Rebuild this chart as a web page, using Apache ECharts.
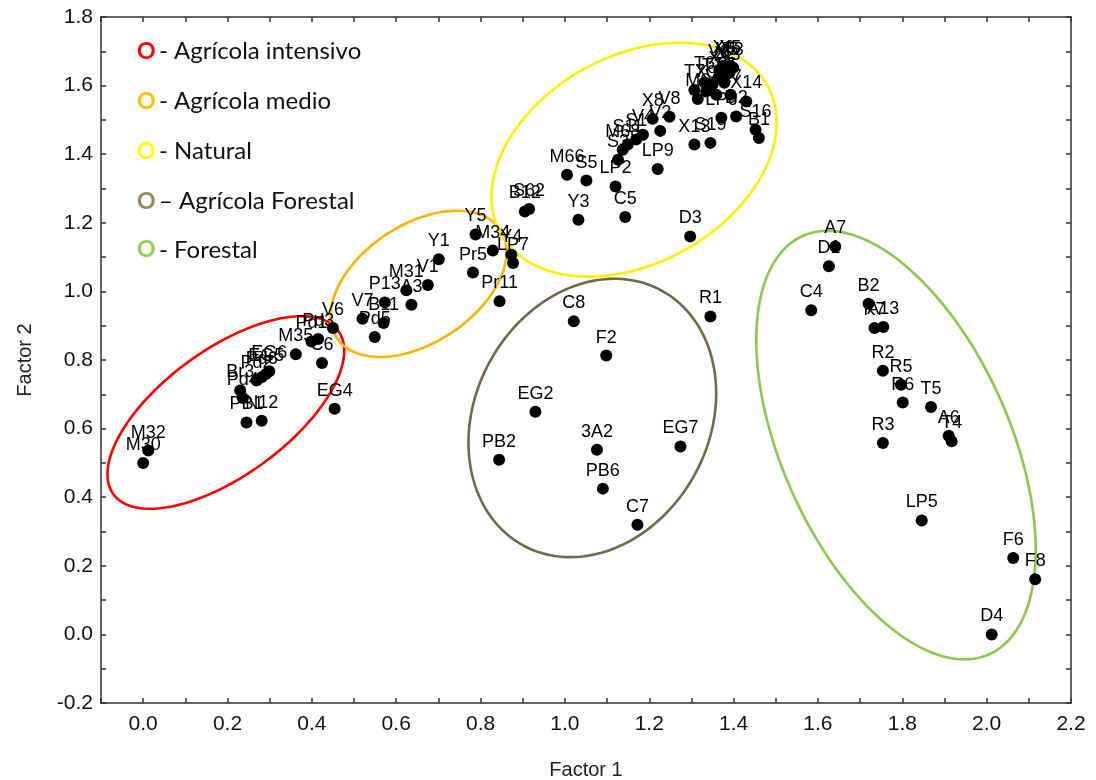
<!DOCTYPE html>
<html><head><meta charset="utf-8">
<script src="https://cdn.jsdelivr.net/npm/echarts@6/dist/echarts.min.js"></script>
<style>html,body{margin:0;padding:0;background:#fff}#c{width:1096px;height:780px}</style>
</head><body><div id="c"></div>
<script>
// ---- tick labels ----
const xTickLabels = ['0.0','0.2','0.4','0.6','0.8','1.0','1.2','1.4','1.6','1.8','2.0','2.2'];
const yTickLabels = ['-0.2','0.0','0.2','0.4','0.6','0.8','1.0','1.2','1.4','1.6','1.8'];

// ---- Agrícola intensivo ----
const redNames = ['M30','M32','PB1','N12','Br3','Pd4','Pd2','Pd6','EG5','EG6','M35','Pd1','Pd3','C6','EG4'];
const redX = [0.00,0.012,0.245,0.281,0.230,0.236,0.269,0.281,0.292,0.299,0.362,0.399,0.415,0.424,0.454];
const redY = [0.50,0.536,0.618,0.623,0.711,0.689,0.740,0.750,0.760,0.767,0.817,0.854,0.861,0.791,0.658];

// ---- Agrícola medio ----
const orangeNames = ['V6','V7','Pd5','B11','P13','A3','M31','V1','Y1','Pr5','Pr11','Y5','M34','Y4','LP7'];
const orangeX = [0.450,0.520,0.549,0.570,0.573,0.636,0.624,0.675,0.701,0.782,0.845,0.788,0.829,0.873,0.877];
const orangeY = [0.893,0.920,0.867,0.908,0.968,0.961,1.003,1.019,1.094,1.055,0.971,1.166,1.119,1.107,1.083];

// ---- Natural ----
const yellowNames = ['B12','S62','Y3','M66','S5','LP2','C5','D3','S3','M68','S11','S1','V4','V2','X8','V8','LP9','X13','S19',
  'LP6','D2','X14','S16','B1','M6','T7','X9','V9','X7','T2','T6','T1','X1','V3','X6','V5','X5','T3','X2','X3'];
const yellowX = [0.905,0.915,1.032,1.005,1.051,1.120,1.143,1.297,1.126,1.137,1.149,1.169,1.185,1.226,1.208,1.248,1.220,1.307,1.345,
  1.371,1.406,1.430,1.452,1.460,1.315,1.307,1.335,1.359,1.393,1.378,1.331,1.350,1.366,1.366,1.376,1.385,1.392,1.399,1.380,1.390];
const yellowY = [1.233,1.240,1.209,1.340,1.323,1.306,1.217,1.160,1.384,1.413,1.428,1.443,1.457,1.468,1.503,1.509,1.357,1.428,1.433,
  1.506,1.510,1.554,1.471,1.447,1.561,1.587,1.583,1.573,1.573,1.608,1.609,1.604,1.626,1.646,1.658,1.652,1.658,1.652,1.640,1.637];

// ---- Agrícola Forestal ----
const oliveNames = ['C8','F2','EG2','PB2','3A2','EG7','PB6','C7','R1'];
const oliveX = [1.021,1.098,0.930,0.844,1.076,1.274,1.090,1.172,1.345];
const oliveY = [0.913,0.813,0.649,0.509,0.538,0.548,0.425,0.320,0.927];

// ---- Forestal ----
const greenNames = ['A7','D1','C4','B2','K7','A13','R2','R5','R6','T5','R3','A6','T4','LP5','F6','F8','D4'];
const greenX = [1.641,1.626,1.584,1.720,1.734,1.755,1.754,1.797,1.801,1.868,1.754,1.910,1.917,1.846,2.063,2.115,2.012];
const greenY = [1.131,1.073,0.945,0.964,0.893,0.896,0.769,0.728,0.676,0.663,0.558,0.579,0.563,0.332,0.223,0.161,0.000];

// ---- legend entries ----
const legendSymbols = ['O','O','O','O','O'];
const legendTexts = ['- Agrícola intensivo','- Agrícola medio','- Natural','– Agrícola Forestal','- Forestal'];
const legendColors = ['#FF0000','#FFC000','#FFFF00','#948A54','#92D050'];

// ---- group ellipses (annotation outlines: centre in data units, semi-axes in px, tilt in deg) ----
const ellipseDefs = [
  {stroke:'#FF0000', cx:0.196, cy:0.647, rx:139, ry:63, angle:36},
  {stroke:'#FFB400', cx:0.653, cy:1.022, rx:98, ry:59, angle:33.5},
  {stroke:'#FFF000', cx:1.164, cy:1.384, rx:152.5, ry:103.6, angle:29},
  {stroke:'#6F6A48', cx:1.065, cy:0.631, rx:145, ry:117, angle:61.7},
  {stroke:'#8CC84B', cx:1.785, cy:0.552, rx:229, ry:114, angle:114}
];

function build(names, xs, ys){ return names.map((n,i)=>({name:n, value:[xs[i], ys[i]]})); }
const allData = [].concat(
  build(redNames, redX, redY), build(orangeNames, orangeX, orangeY),
  build(yellowNames, yellowX, yellowY), build(oliveNames, oliveX, oliveY),
  build(greenNames, greenX, greenY));

const FONT = '"Liberation Sans", Arial, sans-serif';
function lab(arr){ return v => { const s = (Math.abs(v) < 1e-9 ? 0 : v).toFixed(1); return arr.indexOf(s) >= 0 ? s : ''; }; }
const axisLineStyle = {color:'#333', width:1.5};

const chart = echarts.init(document.getElementById('c'), null, {renderer:'canvas'});
const option = {
  animation:false,
  backgroundColor:'#fff',
  grid:{left:101, right:25, top:17, bottom:77, containLabel:false, outerBoundsMode:'none'},
  xAxis:[
    {type:'value', position:'bottom', min:-0.1, max:2.2, interval:0.1,
     name:'Factor 1', nameLocation:'middle', nameGap:57,
     nameTextStyle:{fontSize:20, color:'#222', fontFamily:FONT},
     axisLine:{show:true, onZero:false, lineStyle:axisLineStyle},
     axisTick:{show:true, inside:true, length:5, lineStyle:axisLineStyle},
     axisLabel:{show:true, interval:0, formatter:lab(xTickLabels), fontSize:21, color:'#111', fontFamily:FONT, margin:11},
     splitLine:{show:false}},
    {type:'value', position:'top', min:-0.1, max:2.2, interval:0.1,
     axisLine:{show:true, onZero:false, lineStyle:axisLineStyle},
     axisTick:{show:true, inside:true, length:5, lineStyle:axisLineStyle},
     axisLabel:{show:false}, splitLine:{show:false}}
  ],
  yAxis:[
    {type:'value', position:'left', min:-0.2, max:1.8, interval:0.1,
     name:'Factor 2', nameLocation:'middle', nameGap:66,
     nameTextStyle:{fontSize:20, color:'#222', fontFamily:FONT},
     axisLine:{show:true, onZero:false, lineStyle:axisLineStyle},
     axisTick:{show:true, inside:true, length:5, lineStyle:axisLineStyle},
     axisLabel:{show:true, interval:0, formatter:lab(yTickLabels), fontSize:21, color:'#111', fontFamily:FONT, margin:8},
     splitLine:{show:false}},
    {type:'value', position:'right', min:-0.2, max:1.8, interval:0.1,
     axisLine:{show:true, onZero:false, lineStyle:axisLineStyle},
     axisTick:{show:true, inside:true, length:5, lineStyle:axisLineStyle},
     axisLabel:{show:false}, splitLine:{show:false}}
  ],
  series:[{
    type:'scatter', xAxisIndex:0, yAxisIndex:0, z:5,
    symbol:'circle', symbolSize:12,
    itemStyle:{color:'#000', opacity:1},
    emphasis:{disabled:true},
    label:{show:true, position:'top', distance:3, formatter:p=>p.name,
           color:'#000', opacity:1, fontSize:18, fontFamily:FONT},
    labelLayout:{hideOverlap:false},
    data:allData
  }]
};
chart.setOption(option);

function ellipsePoints(e){
  const c = chart.convertToPixel({xAxisIndex:0, yAxisIndex:0}, [e.cx, e.cy]);
  const th = e.angle*Math.PI/180, pts = [];
  for (let k=0;k<180;k++){
    const t = k/180*2*Math.PI;
    const dx = e.rx*Math.cos(t)*Math.cos(th) - e.ry*Math.sin(t)*Math.sin(th);
    const dy = e.rx*Math.cos(t)*Math.sin(th) + e.ry*Math.sin(t)*Math.cos(th);
    pts.push([c[0]+dx, c[1]-dy]);
  }
  return pts;
}
const graphics = [];
ellipseDefs.forEach(e => graphics.push({type:'polygon', z:1, silent:true,
  shape:{points:ellipsePoints(e)}, style:{fill:null, stroke:e.stroke, lineWidth:2.6}}));
const rowY = [51.7, 101.7, 151.7, 201.7, 250];
legendTexts.forEach((t,i) => {
  graphics.push({type:'text', z:10, x:137, y:rowY[i], style:{text:legendSymbols[i], fill:legendColors[i],
    font:'bold 23px Lato, "Open Sans", sans-serif', verticalAlign:'middle', align:'left'}});
  graphics.push({type:'text', z:10, x:159, y:rowY[i], style:{text:t, fill:'#111',
    font:'24px Lato, "Open Sans", sans-serif', verticalAlign:'middle', align:'left'}});
});
chart.setOption({graphic:graphics});
</script></body></html>
